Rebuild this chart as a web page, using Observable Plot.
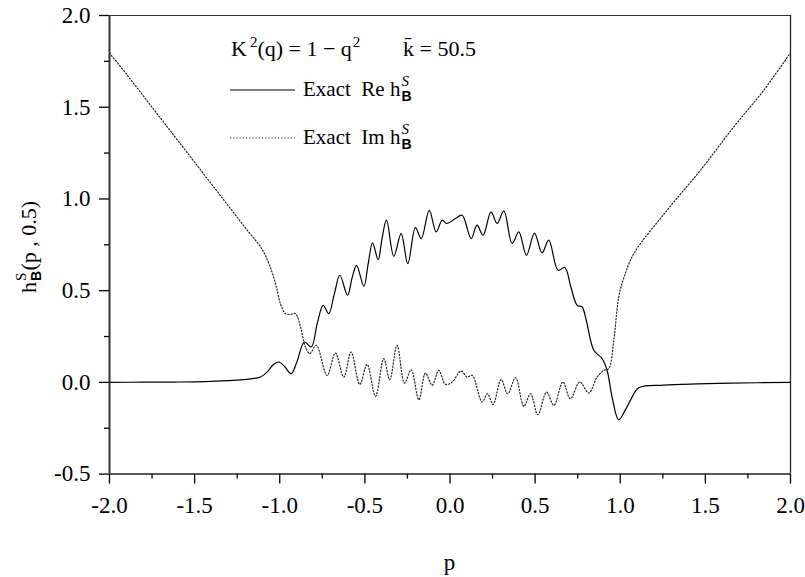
<!DOCTYPE html>
<html>
<head>
<meta charset="utf-8">
<script src="https://cdn.jsdelivr.net/npm/d3@7"></script>
<script src="https://cdn.jsdelivr.net/npm/@observablehq/plot@0.6"></script>
<style>
  html, body { margin: 0; padding: 0; background: #fff; }
  #chart svg { display: block; }
  #chart svg text { font-family: "Liberation Serif", "Times New Roman", serif; }
</style>
</head>
<body>
<div id="chart"></div>
<script>
// Re h_B^S(p, 0.5)
const reP = [-2.0, -1.8, -1.6, -1.4, -1.25, -1.15, -1.113, -1.07, -1.04, -1.006, -0.97, -0.933, -0.90, -0.855, -0.815, -0.78, -0.745, -0.712, -0.68, -0.647, -0.602, -0.575, -0.549, -0.506, -0.48, -0.455, -0.422, -0.40, -0.373, -0.330, -0.287, -0.248, -0.203, -0.169, -0.122, -0.081, -0.046, -0.02, 0.032, 0.071, 0.124, 0.159, 0.194, 0.241, 0.277, 0.316, 0.365, 0.404, 0.449, 0.496, 0.541, 0.580, 0.635, 0.674, 0.71, 0.747, 0.776, 0.80, 0.845, 0.894, 0.923, 0.952, 0.991, 1.03, 1.06, 1.109, 1.256, 1.45, 1.647, 2.0];
const reV = [0, 0.001, 0.002, 0.006, 0.012, 0.022, 0.029, 0.06, 0.095, 0.111, 0.085, 0.047, 0.11, 0.22, 0.193, 0.32, 0.42, 0.375, 0.48, 0.584, 0.475, 0.57, 0.638, 0.524, 0.65, 0.76, 0.669, 0.78, 0.884, 0.687, 0.811, 0.647, 0.844, 0.784, 0.938, 0.82, 0.884, 0.866, 0.893, 0.911, 0.784, 0.857, 0.802, 0.929, 0.866, 0.935, 0.757, 0.82, 0.693, 0.814, 0.706, 0.775, 0.611, 0.626, 0.52, 0.42, 0.411, 0.34, 0.175, 0.129, 0.065, -0.08, -0.204, -0.15, -0.098, -0.029, -0.015, -0.008, -0.004, 0];

// Im h_B^S(p, 0.5)
const imP = [-2.0, -1.9, -1.8, -1.7, -1.6, -1.5, -1.4, -1.3, -1.2, -1.1, -1.045, -1.02, -0.996, -0.967, -0.94, -0.908, -0.878, -0.849, -0.824, -0.785, -0.722, -0.673, -0.624, -0.581, -0.530, -0.487, -0.438, -0.389, -0.354, -0.311, -0.267, -0.228, -0.183, -0.144, -0.105, -0.066, -0.026, 0.013, 0.065, 0.10, 0.13, 0.189, 0.22, 0.253, 0.300, 0.339, 0.385, 0.434, 0.473, 0.516, 0.567, 0.610, 0.663, 0.707, 0.762, 0.815, 0.864, 0.903, 0.932, 0.962, 0.991, 1.021, 1.08, 1.275, 1.471, 1.667, 1.843, 2.0];
const imV = [1.795, 1.68, 1.56, 1.44, 1.32, 1.20, 1.08, 0.96, 0.84, 0.72, 0.60, 0.52, 0.429, 0.375, 0.37, 0.375, 0.302, 0.193, 0.157, 0.202, 0.038, 0.16, 0.029, 0.165, -0.011, 0.098, -0.076, 0.129, 0.015, 0.202, -0.004, 0.069, -0.095, 0.051, -0.016, 0.065, -0.011, 0.002, 0.062, 0.029, 0.038, -0.107, -0.062, -0.12, 0.015, -0.062, 0.026, -0.131, -0.062, -0.176, -0.053, -0.125, 0.002, -0.089, 0.002, -0.058, 0.029, 0.065, 0.075, 0.229, 0.465, 0.57, 0.702, 0.938, 1.157, 1.393, 1.593, 1.797];

const xMajor = [-2.0, -1.5, -1.0, -0.5, 0.0, 0.5, 1.0, 1.5, 2.0];
const xMinor = [-1.75, -1.25, -0.75, -0.25, 0.25, 0.75, 1.25, 1.75];
const yMajor = [-0.5, 0.0, 0.5, 1.0, 1.5, 2.0];
const yMinor = [-0.25, 0.25, 0.75, 1.25, 1.75];

const reData = reP.map((p, i) => ({p, v: reV[i]}));
const imData = imP.map((p, i) => ({p, v: imV[i]}));
const fmt = d => d.toFixed(1);

const chart = Plot.plot({
  width: 805,
  height: 577,
  marginLeft: 109,
  marginRight: 15,
  marginTop: 15,
  marginBottom: 103.4,
  x: {domain: [-2, 2]},
  y: {domain: [-0.5, 2]},
  style: {fontFamily: "Liberation Serif, serif", fontSize: "23px", background: "#fff", color: "#000"},
  marks: [
    Plot.axisX(xMajor, {tickSize: 10, tickPadding: 13, tickFormat: fmt, label: null, strokeWidth: 1.3}),
    Plot.axisX(xMinor, {tickSize: 5, tickFormat: () => "", label: null, strokeWidth: 1.3}),
    Plot.axisY(yMajor, {tickSize: 10, tickPadding: 9, tickFormat: fmt, label: null, strokeWidth: 1.3}),
    Plot.axisY(yMinor, {tickSize: 5, tickFormat: () => "", label: null, strokeWidth: 1.3}),
    Plot.ruleY([2], {stroke: "#333", strokeWidth: 1}),
    Plot.ruleX([2], {stroke: "#222", strokeWidth: 1.3}),
    Plot.line(imData, {x: "p", y: "v", curve: "catmull-rom", stroke: "#222", strokeWidth: 1.2, strokeDasharray: "1.2,2"}),
    Plot.line(reData, {x: "p", y: "v", curve: "catmull-rom", stroke: "#000", strokeWidth: 1.2}),
    Plot.ruleY([-0.5], {stroke: "#222", strokeWidth: 1.5}),
    Plot.ruleX([-2], {stroke: "#333", strokeWidth: 2})
  ]
});
document.getElementById("chart").appendChild(chart);

// Legend and axis labels as real SVG text
const svg = d3.select(chart);
const sans = "Liberation Sans, Arial, sans-serif";

function txt(x, y, size) {
  return svg.append("text").attr("x", x).attr("y", y)
    .attr("text-anchor", "start").attr("font-size", size).attr("fill", "#000")
    .style("white-space", "pre");
}

const t0 = txt(231, 56, 22);
t0.append("tspan").text("K");
t0.append("tspan").attr("font-size", 15).attr("dx", 3).attr("dy", -9).text("2");
t0.append("tspan").attr("dy", 9).text("(q) = 1 \u2212 q");
t0.append("tspan").attr("font-size", 15).attr("dx", 1).attr("dy", -9).text("2");

txt(403, 56, 22).text("k\u0304 = 50.5");

function hbs(sel, italicS) {
  sel.append("tspan").text("h");
  sel.append("tspan").style("font-family", sans).attr("font-weight", "bold")
    .attr("font-size", 14).attr("dx", 1).attr("dy", 5).text("B");
  sel.append("tspan").attr("font-size", 15).attr("font-style", italicS ? "italic" : "normal")
    .attr("dx", -10).attr("dy", -15).text("S");
  return sel;
}

svg.append("line").attr("x1", 230).attr("x2", 295).attr("y1", 90).attr("y2", 90)
  .attr("stroke", "#000").attr("stroke-width", 1.2);
const t1 = txt(303, 96, 21);
t1.append("tspan").text("Exact  Re ");
hbs(t1, true);

svg.append("line").attr("x1", 230).attr("x2", 295).attr("y1", 138).attr("y2", 138)
  .attr("stroke", "#222").attr("stroke-width", 1.2).attr("stroke-dasharray", "1.2,2");
const t2 = txt(303, 144, 21);
t2.append("tspan").text("Exact  Im ");
hbs(t2, true);

// y-axis label
const yl = svg.append("text").attr("transform", "translate(36,293) rotate(-90)")
  .attr("text-anchor", "start").attr("font-size", 22).attr("fill", "#000").style("white-space", "pre");
hbs(yl, false);
yl.append("tspan").attr("dx", 2).attr("dy", 10).text("(p , 0.5)");

// x-axis label
svg.append("text").attr("x", 449.5).attr("y", 570).attr("text-anchor", "middle")
  .attr("font-size", 23).attr("fill", "#000").text("p");
</script>
</body>
</html>
